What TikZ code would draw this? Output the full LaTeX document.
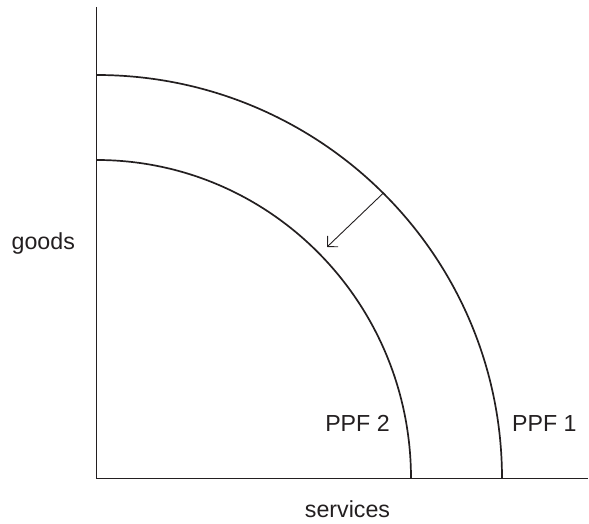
\documentclass[tikz,border=0pt]{standalone}
\usepackage{fontspec}
\setmainfont{Liberation Sans}
\usetikzlibrary{arrows.meta,calc}
\definecolor{ink}{HTML}{231F20}
\begin{document}
\begin{tikzpicture}[x=1pt,y=1pt,
  axis/.style={draw=ink,line width=1.4pt},
  frontier/.style={draw=ink,line width=1.7pt},
  shiftarrow/.style={draw=ink,line width=0.9pt,-{Straight Barb[length=7.5pt,width=15pt,line width=0.9pt]}},
  lbl/.style={text=ink,font=\fontsize{23.2}{28}\selectfont,inner sep=0pt,anchor=base}]
\useasboundingbox (0,0) rectangle (589,524);
% axes
\coordinate (O) at (96.5,45.5);
\coordinate (ytop) at (96.5,517);
\coordinate (xend) at (588,45.5);
\draw[axis] (ytop) -- (O) -- (xend);
% production possibility frontiers (quarter ellipses about the origin)
\draw[frontier] ([yshift=403.5pt]O) arc[start angle=90,end angle=0,x radius=405.5,y radius=403.5];
\draw[frontier] ([yshift=318.5pt]O) arc[start angle=90,end angle=0,x radius=314.5,y radius=318.5];
% inward shift of the frontier
\coordinate (shiftfrom) at ($(O)+(286.7,285.3)$);
\coordinate (shiftto) at (327,277);
\draw[shiftarrow] (shiftfrom) -- (shiftto);
% labels
\node[lbl] (goods) at (43.3,274.7) {goods};
\node[lbl] (services) at (347.5,6.7) {services};
\node[lbl] (ppf2) at (357.5,92) {PPF 2};
\node[lbl] (ppf1) at (544.3,92) {PPF 1};
\end{tikzpicture}
\end{document}
